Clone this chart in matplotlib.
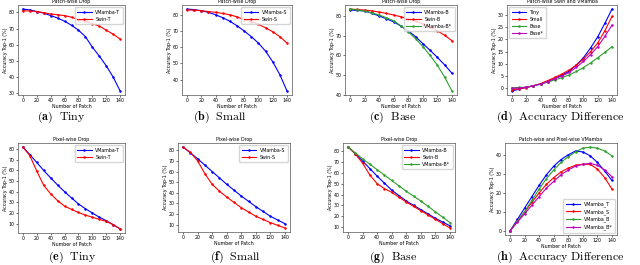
import matplotlib
matplotlib.use("Agg")
import matplotlib.pyplot as plt

plt.rcParams['mathtext.fontset'] = 'cm'
plt.rcParams['font.family'] = ['DejaVu Sans']

patches = [0, 10, 20, 30, 40, 50, 60, 70, 80, 90, 100, 110, 120, 130, 140]

# (a) Patch-wise Tiny
vm_t_patch = [82, 81.5, 80.5, 79.5, 78, 76.5, 74.5, 72, 69, 65, 58.5, 53, 47, 40, 31.5]
swin_t_patch = [81, 80.8, 80.5, 79.8, 79, 78.5, 78, 77, 75.5, 74.5, 73, 71.5, 69, 66.5, 63.5]
# (b) Patch-wise Small
vm_s_patch = [83.5, 83.2, 82.5, 81.5, 80, 78.2, 76, 73.2, 70, 66.5, 62.5, 57.5, 51, 43, 33]
swin_s_patch = [83, 82.8, 82.5, 82, 81.5, 80.8, 80, 78.7, 77, 75.7, 74, 72, 69.5, 66.5, 62.5]
# (c) Patch-wise Base
vm_b_patch = [83, 82.8, 82.5, 81.4, 80, 78.6, 77, 74.9, 72.5, 69.5, 66, 62.6, 59, 55.2, 51]
swin_b_patch = [83.5, 83.3, 83, 82.6, 82, 81.3, 80.5, 79.6, 78.5, 77.3, 76, 74.4, 72.5, 70.2, 67.5]
vm_bs_patch = [83.5, 83.1, 82.5, 81.6, 80.5, 79.1, 77.5, 75, 72, 68.5, 64.5, 60, 55, 49, 42]
# (d) Patch-wise difference
diff_tiny = [-1, -0.3, 0.5, 1.1, 1.8, 2.8, 4, 5.4, 7, 9.5, 12.5, 16.5, 21, 26.5, 32.3]
diff_small = [-0.5, -0.1, 0.3, 1.1, 2, 3.2, 4.5, 5.9, 7.5, 9.5, 12, 15, 18.5, 23.5, 29.3]
diff_base = [0.3, 0.4, 0.5, 1.1, 1.8, 2.6, 3.5, 4.4, 5.5, 6.9, 8.5, 10.4, 12.5, 14.7, 17]
diff_base_s = [0, 0.2, 0.5, 1.1, 1.8, 2.8, 4, 5.1, 6.5, 8.6, 11, 13.8, 17, 21.2, 25.8]
# (e) Pixel-wise Tiny
vm_t_pixel = [82, 75, 67.5, 60, 53, 46.3, 40, 34.2, 28.5, 24, 20, 16, 12.8, 9, 5]
swin_t_pixel = [82, 74, 59.5, 46, 38, 31.5, 26.5, 23.3, 20.5, 18, 16, 14, 12, 9, 5]
# (f) Pixel-wise Small
vm_s_pixel = [83, 77.5, 72, 66, 60, 54, 48, 42.5, 37, 32, 27, 22.5, 18, 14.5, 11]
swin_s_pixel = [83, 78, 70, 58, 48, 41.5, 36, 31, 26, 22, 18, 15, 12, 9.5, 7]
# (g) Pixel-wise Base
vm_b_pixel = [84, 78, 71, 64, 57, 50.5, 44, 39, 34, 30, 26, 22, 18, 14.5, 11]
swin_b_pixel = [84, 77.5, 69, 58, 50, 45.5, 42, 37.5, 33, 29, 25, 21, 17, 13, 9]
vm_bs_pixel = [84, 78.5, 73, 68, 63, 58, 53, 48, 43, 38.5, 34, 29, 24, 19, 14]
# (h) Patch-wise minus Pixel-wise VMamba
gap_t = [0, 6, 12, 18, 24, 29.5, 34, 37.5, 40, 42, 41.5, 39.5, 36, 31.5, 26.5]
gap_s = [0, 5, 10, 15, 20, 24.5, 28, 31, 33, 34.5, 35, 35, 32.5, 28, 22]
gap_b = [0, 5, 10, 16, 22, 27.5, 32, 36, 39, 41.5, 43.5, 44, 43.5, 42, 39.5]
gap_bs = [0, 4.5, 9, 13.5, 18, 22.5, 26, 29.5, 32, 34, 35, 35.5, 34.5, 32, 28.5]

W, H = 640, 265
fig = plt.figure(figsize=(6.4, 2.65), dpi=100)

def ax_at(x0, x1, ytop, ybot):
    return fig.add_axes([x0 / W, 1 - ybot / H, (x1 - x0) / W, (ybot - ytop) / H])

FS = 3.4
def style(ax, title):
    ax.set_title(title, fontsize=FS, pad=1.2)
    ax.set_xlabel('Number of Patch', fontsize=FS, labelpad=0.3)
    ax.set_ylabel('Accuracy Top-1 (%)', fontsize=FS, labelpad=0.3)
    ax.tick_params(labelsize=FS, length=1.5, width=0.4, pad=0.8)
    ax.set_xticks([0, 20, 40, 60, 80, 100, 120, 140])
    for s in ax.spines.values():
        s.set_linewidth(0.5)
        s.set_color('#555555')

def line(ax, y, c, lab):
    ax.plot(patches, y, '-o', color=c, lw=0.8, ms=0.8, label=lab)

def leg(ax, loc):
    ax.legend(loc=loc, fontsize=FS, handlelength=3, borderpad=0.5, labelspacing=0.45,
              frameon=True, framealpha=0.8)

# Row 1
ax = ax_at(18, 125, 5, 95)
line(ax, vm_t_patch, 'blue', 'VMamba-T'); line(ax, swin_t_patch, 'red', 'Swin-T')
style(ax, 'Patch-wise Drop'); leg(ax, 'upper right')

ax = ax_at(182, 292, 5, 95)
line(ax, vm_s_patch, 'blue', 'VMamba-S'); line(ax, swin_s_patch, 'red', 'Swin-S')
style(ax, 'Patch-wise Drop'); leg(ax, 'upper right')

ax = ax_at(345, 457, 5, 95)
line(ax, vm_b_patch, 'blue', 'VMamba-B'); line(ax, swin_b_patch, 'red', 'Swin-B')
line(ax, vm_bs_patch, 'tab:green', 'VMamba-B*')
style(ax, 'Patch-wise Drop'); leg(ax, 'upper right')

ax = ax_at(507, 617, 5, 95)
line(ax, diff_tiny, 'blue', 'Tiny'); line(ax, diff_small, 'red', 'Small')
line(ax, diff_base, 'tab:green', 'Base'); line(ax, diff_base_s, 'm', 'Base*')
style(ax, 'Patch-wise Swin and VMamba'); leg(ax, 'upper left')

# Row 2
ax = ax_at(18, 125, 143, 233)
line(ax, vm_t_pixel, 'blue', 'VMamba-T'); line(ax, swin_t_pixel, 'red', 'Swin-T')
style(ax, 'Pixel-wise Drop'); leg(ax, 'upper right')

ax = ax_at(178, 290, 143, 232)
line(ax, vm_s_pixel, 'blue', 'VMamba-S'); line(ax, swin_s_pixel, 'red', 'Swin-S')
style(ax, 'Pixel-wise Drop'); leg(ax, 'upper right')

ax = ax_at(343, 455, 143, 232)
line(ax, vm_b_pixel, 'blue', 'VMamba-B'); line(ax, swin_b_pixel, 'red', 'Swin-B')
line(ax, vm_bs_pixel, 'tab:green', 'VMamba-B*')
style(ax, 'Pixel-wise Drop'); leg(ax, 'upper right')

ax = ax_at(505, 617, 143, 235)
line(ax, gap_t, 'blue', 'VMamba_T'); line(ax, gap_s, 'red', 'VMamba_S')
line(ax, gap_b, 'tab:green', 'VMamba_B'); line(ax, gap_bs, 'm', 'VMamba_B*')
style(ax, 'Patch-wise and Pixel-wise VMamba'); leg(ax, 'lower right')

captions = [('a', 'Tiny', 61, 117), ('b', 'Small', 220, 117), ('c', 'Base', 393, 117),
            ('d', 'Accuracy\\ Difference', 560, 117),
            ('e', 'Tiny', 72, 257), ('f', 'Small', 235, 257), ('g', 'Base', 393, 257),
            ('h', 'Accuracy\\ Difference', 560, 257)]
for k, t, x, y in captions:
    fig.text(x / W, 1 - y / H, r'$\mathbf{(%s)}\ \ \mathrm{%s}$' % (k, t),
             ha='center', va='center', fontsize=8.6)

fig.savefig('out.png', dpi=100)
